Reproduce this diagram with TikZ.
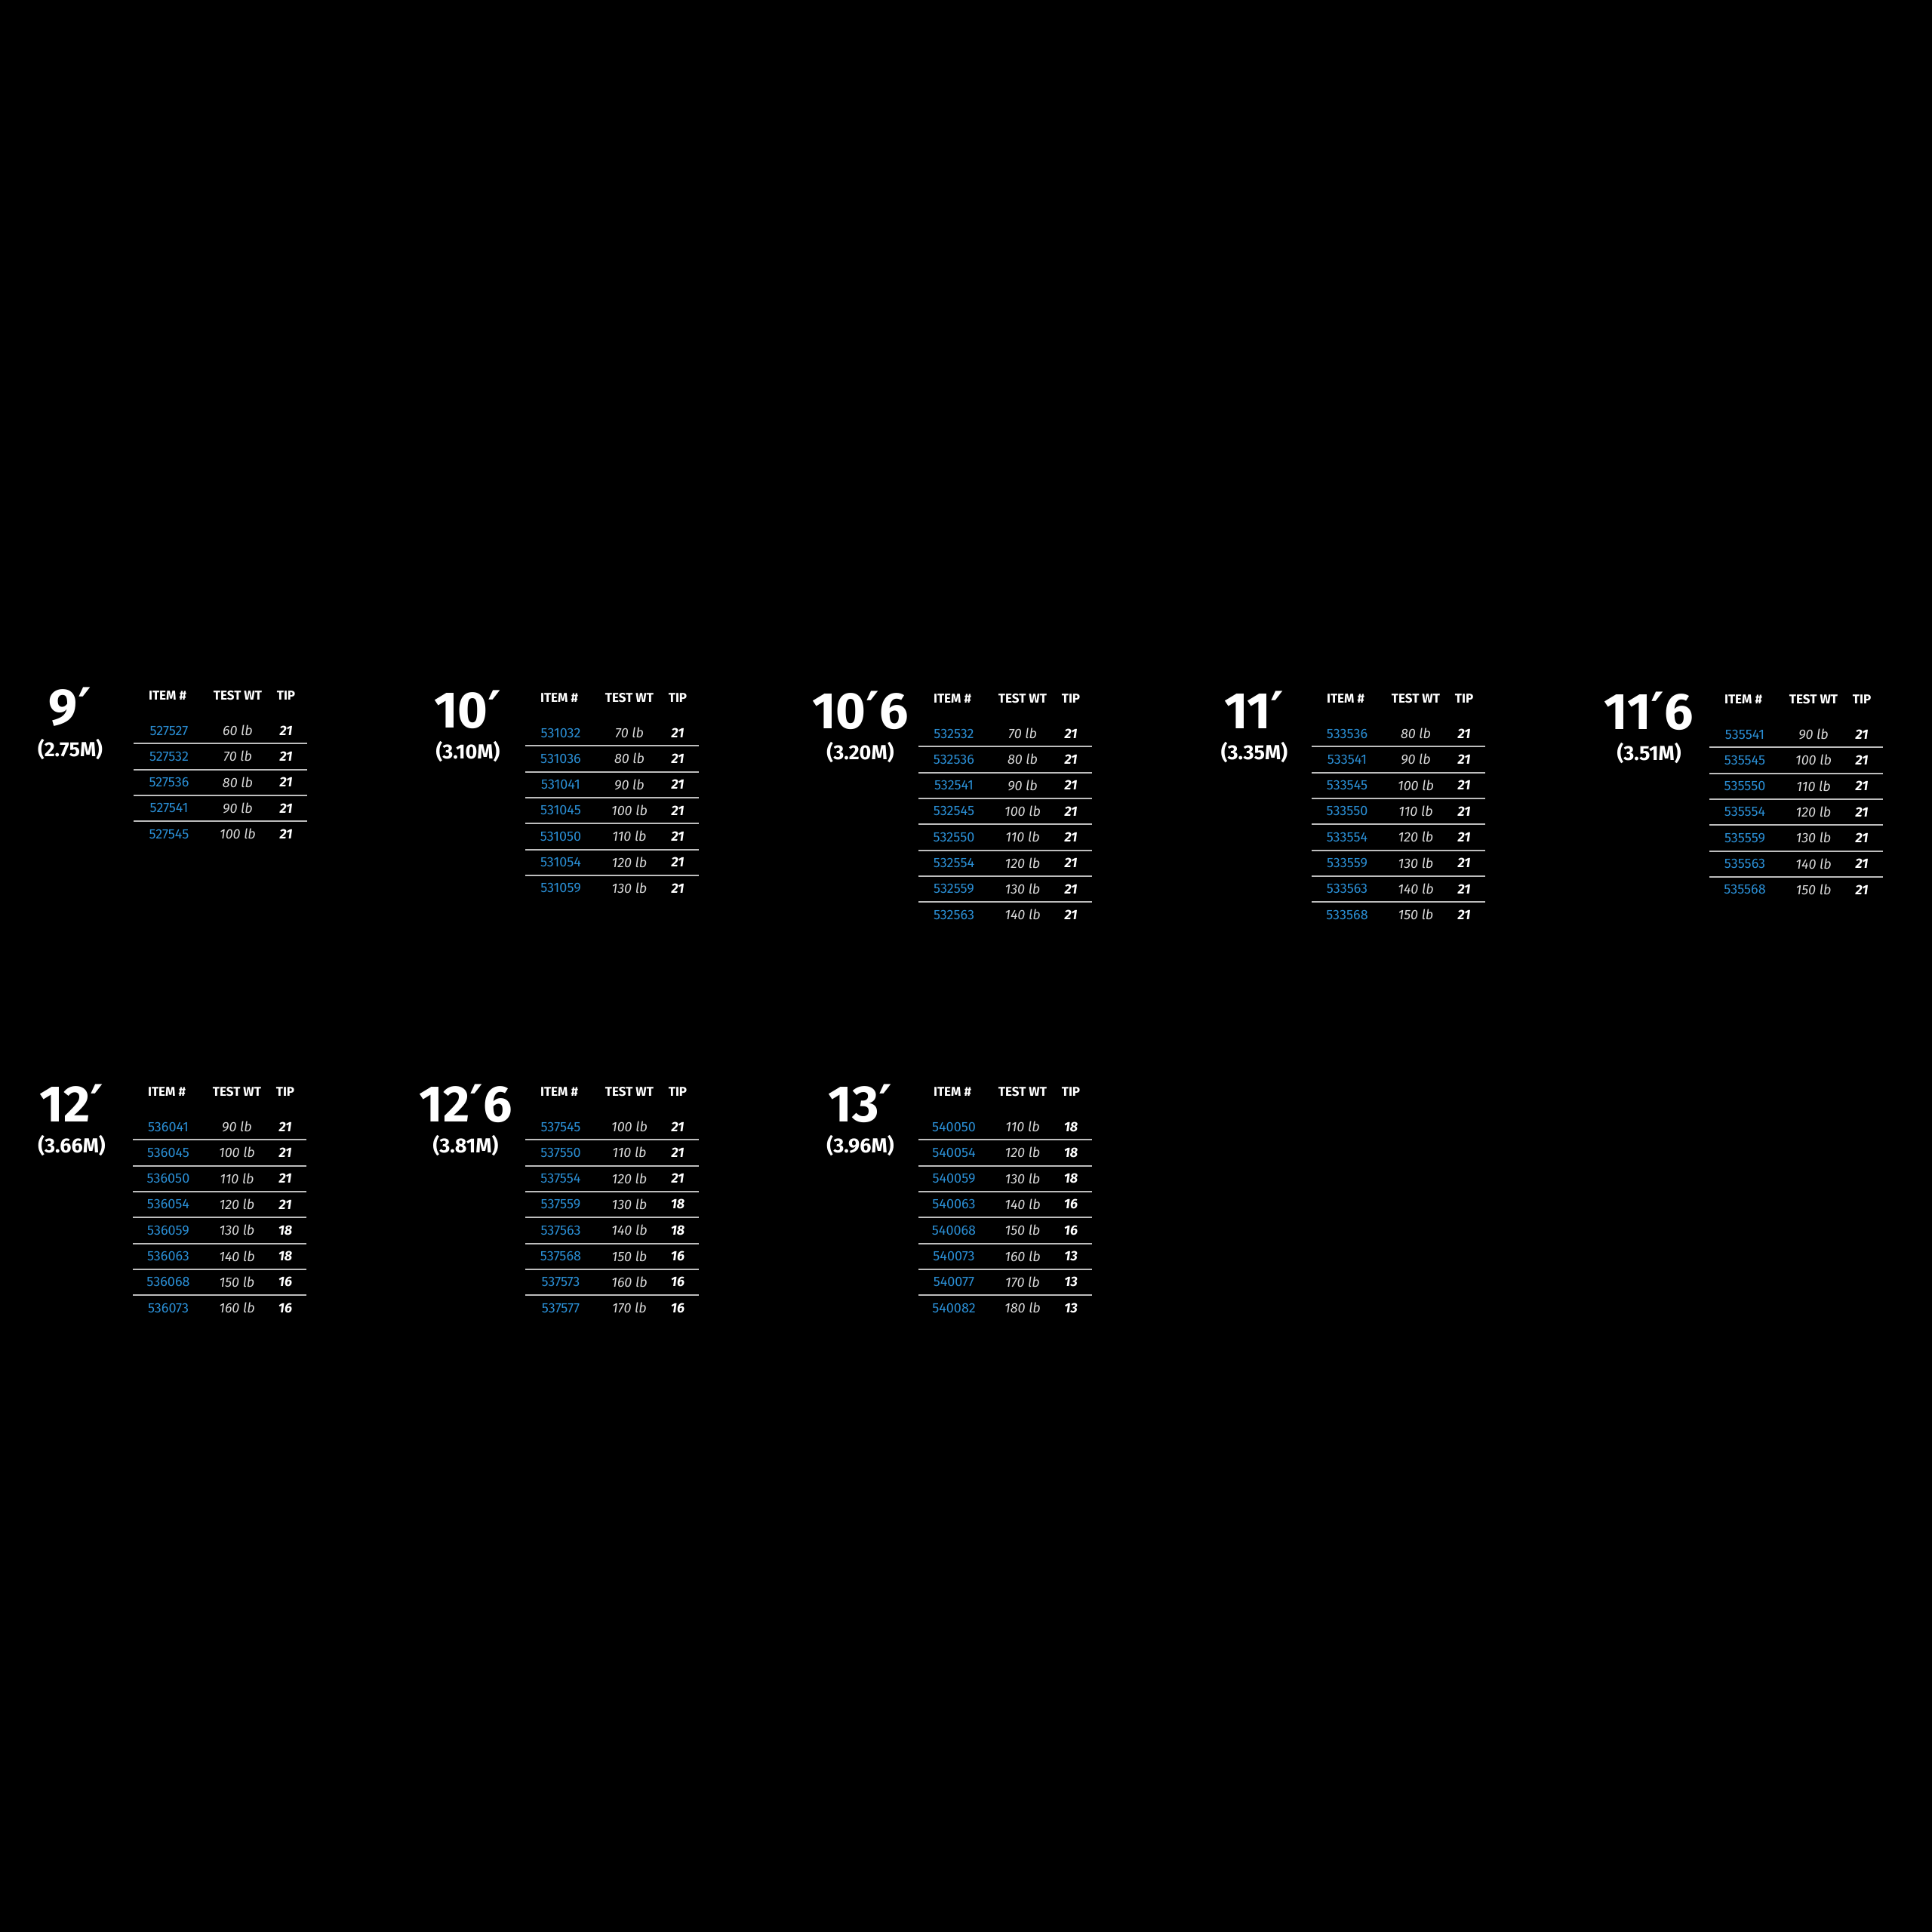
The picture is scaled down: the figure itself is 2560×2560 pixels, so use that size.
\documentclass[tikz,border=0pt]{standalone}
\usepackage{fontspec}
\setmainfont{Fira Sans}
\newfontfamily\djv{DejaVu Sans}
\newcommand\pr{{\djv\bfseries\char"2032}}
\definecolor{itemblue}{HTML}{2A8ED4}
\definecolor{rule}{HTML}{BDBDBD}
\tikzset{
 ttl/.style={text=white,font=\fontsize{68}{68}\selectfont\bfseries,anchor=center,inner sep=0},
 sub/.style={text=white,font=\fontsize{27}{27}\selectfont\bfseries,anchor=center,inner sep=0},
 hdr/.style={text=white,font=\fontsize{17}{17}\selectfont\bfseries,anchor=center,inner sep=0},
 itm/.style={text=itemblue,font=\fontsize{18}{18}\selectfont,anchor=center,inner sep=0},
 wt/.style={text=white!85!black,font=\fontsize{18}{18}\selectfont\itshape,anchor=center,inner sep=0},
 tipc/.style={text=white,font=\fontsize{18}{18}\selectfont\bfseries\itshape,anchor=center,inner sep=0},
 sep/.style={draw=rule,line width=2pt}
}
\newcommand\rodtable[7]{%
 \node[ttl] (#1-title) at (#4,#3+15) {#5};
 \node[sub] (#1-sub) at (#4,#3+71) {#6};
 \node[hdr] (#1-h1) at (#2-2,#3) {ITEM \#};
 \node[hdr] (#1-h2) at (#2+91,#3) {TEST WT};
 \node[hdr] (#1-h3) at (#2+155,#3) {TIP};
 \foreach \it/\w/\tp [count=\i] in {#7} {
   \pgfmathsetmacro\yy{#3+46+(\i-1)*34.3}
   \node[itm] (#1-i\i) at (#2,\yy) {\it};
   \node[wt] (#1-w\i) at (#2+91,\yy) {\w\ lb};
   \node[tipc] (#1-t\i) at (#2+155,\yy) {\tp};
 }
 \foreach \it/\w/\tp [count=\i] in {#7} {
   \ifnum\i>1
   \pgfmathsetmacro\yy{#3+46+(\i-1)*34.3-17}
   \coordinate (#1-l\i a) at (#2-47,\yy);
   \coordinate (#1-l\i b) at (#2+183,\yy);
   \draw[sep] (#1-l\i a) -- (#1-l\i b);
   \fi
 }
}
\begin{document}
\begin{tikzpicture}[x=1pt,y=-1pt]
\fill[black] (0,0) rectangle (2560,2560);
\useasboundingbox (0,0) rectangle (2560,2560);
\rodtable{a}{224}{922}{93}{9\pr}{(2.75M)}{527527/60/21,527532/70/21,527536/80/21,527541/90/21,527545/100/21}
\rodtable{b}{743}{925}{620}{10\pr}{(3.10M)}{531032/70/21,531036/80/21,531041/90/21,531045/100/21,531050/110/21,531054/120/21,531059/130/21}
\rodtable{c}{1264}{926}{1140}{10\pr6}{(3.20M)}{532532/70/21,532536/80/21,532541/90/21,532545/100/21,532550/110/21,532554/120/21,532559/130/21,532563/140/21}
\rodtable{d}{1785}{926}{1662}{11\pr}{(3.35M)}{533536/80/21,533541/90/21,533545/100/21,533550/110/21,533554/120/21,533559/130/21,533563/140/21,533568/150/21}
\rodtable{e}{2312}{927}{2185}{11\pr6}{(3.51M)}{535541/90/21,535545/100/21,535550/110/21,535554/120/21,535559/130/21,535563/140/21,535568/150/21}
\rodtable{f}{223}{1447}{95}{12\pr}{(3.66M)}{536041/90/21,536045/100/21,536050/110/21,536054/120/21,536059/130/18,536063/140/18,536068/150/16,536073/160/16}
\rodtable{g}{743}{1447}{617}{12\pr6}{(3.81M)}{537545/100/21,537550/110/21,537554/120/21,537559/130/18,537563/140/18,537568/150/16,537573/160/16,537577/170/16}
\rodtable{h}{1264}{1447}{1140}{13\pr}{(3.96M)}{540050/110/18,540054/120/18,540059/130/18,540063/140/16,540068/150/16,540073/160/13,540077/170/13,540082/180/13}
\end{tikzpicture}
\end{document}
